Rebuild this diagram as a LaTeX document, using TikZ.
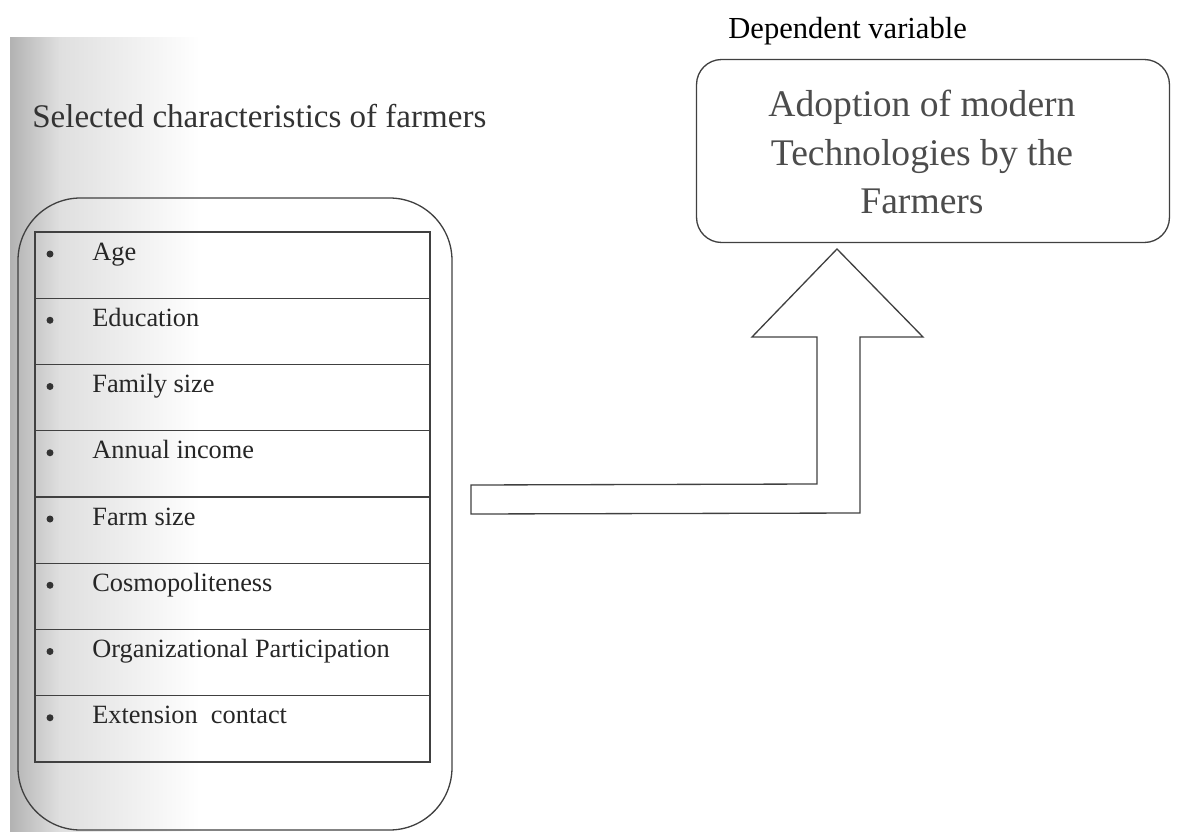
\documentclass[tikz,border=0pt]{standalone}
\usepackage{fontspec}
\setmainfont{Liberation Serif}
\usetikzlibrary{positioning}

\tikzset{
  linie/.style={draw=black!75, line width=0.75pt},
  eintrag/.style={anchor=base west, inner sep=0pt, text=black!85, font=\fontsize{15}{17}\selectfont},
  punkt/.style={circle, fill=black!80, inner sep=0pt, minimum size=0.14cm}
}

\begin{document}
\begin{tikzpicture}[x=0.02cm, y=-0.02cm]
  \useasboundingbox (0,0) rectangle (1178,832);

  % Grauer Rand links
  \shade[left color=gray!60, right color=gray!25] (10,37) rectangle (60,832);
  \shade[left color=gray!25, right color=white] (59.5,37) rectangle (200,832);

  % Ueberschrift links
  \node[anchor=base west, inner sep=0pt, text=black!80, font=\fontsize{18.8}{22}\selectfont] (titel) at (32,127) {Selected characteristics of farmers};

  % Rahmen um die Liste
  \draw[linie, rounded corners=1.25cm] (18,198) rectangle (452,830);

  % Tabelle mit Merkmalen
  \foreach \t [count=\i] in {Age, Education, Family size, Annual income, Farm size, Cosmopoliteness, Organizational Participation, Extension\ \ contact} {
    \draw[linie] (35,{232+66.25*(\i-1)}) rectangle (430,{232+66.25*\i});
    \node[punkt] (punkt\i) at (50,{232+66.25*(\i-1)+22}) {};
    \node[eintrag] (merkmal\i) at (92,{232+66.25*(\i-1)+28}) {\t};
  }

  % Abhaengige Variable
  \node[anchor=base west, inner sep=0pt, font=\fontsize{17.4}{20}\selectfont] (abhaengig) at (728,38) {Dependent variable};
  \node[linie, rounded corners=0.5cm, minimum width=9.46cm, minimum height=3.66cm] (adoption) at (933,151) {};
  \node[align=center, inner sep=0pt, text=black!70, font=\fontsize{21.4}{27.4}\selectfont] (adoptiontext) at (922,152) {Adoption of modern\\ Technologies by the\\ Farmers};

  % Pfeil
  \draw[linie, line join=miter] (471,485) -- (817,484) -- (817,337) -- (752,337) -- (837,249) -- (923,337) -- (860,337) -- (860,513) -- (471,514) -- cycle;

\end{tikzpicture}
\end{document}
